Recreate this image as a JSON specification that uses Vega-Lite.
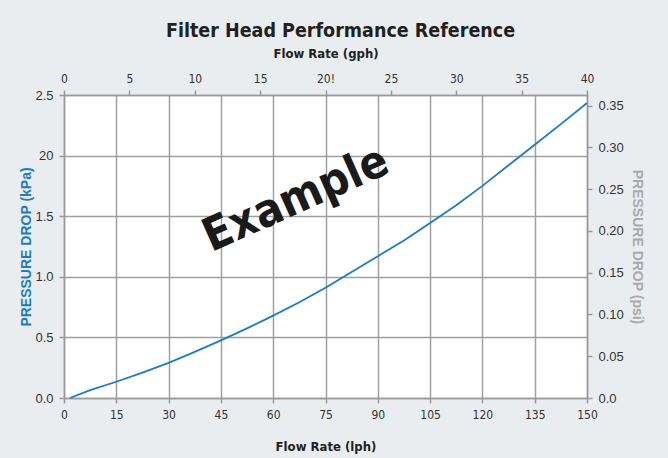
{
  "$schema": "https://vega.github.io/schema/vega-lite/v6.json",
  "autosize": {"type": "none"},
  "width": 523,
  "height": 303,
  "padding": {"left": 64, "top": 95, "right": 81, "bottom": 60},
  "background": "#e9edf0",
  "config": {
    "view": {"fill": "white", "stroke": null},
    "axis": {
      "domainColor": "#9a9a9a", "domainWidth": 1.5,
      "gridColor": "#a0a0a0", "gridWidth": 1.5, "gridOpacity": 1,
      "tickColor": "#9a9a9a", "tickWidth": 1.5, "tickSize": 5,
      "labelColor": "#333333", "labelFontSize": 13, "labelFont": "Liberation Sans",
      "titleFontWeight": "bold", "titleFontSize": 14
    }
  },
  "title": {
    "text": "Filter Head Performance Reference",
    "font": "DejaVu Sans Condensed",
    "fontSize": 19.5,
    "fontWeight": "bold",
    "color": "#231f20",
    "anchor": "middle",
    "dx": 15,
    "offset": 6
  },
  "layer": [
    {
      "data": {"values": [
        {"lph": 1.7, "kpa": 0},
        {"lph": 7.5, "kpa": 0.065},
        {"lph": 15, "kpa": 0.134},
        {"lph": 22.5, "kpa": 0.21},
        {"lph": 30, "kpa": 0.29},
        {"lph": 37.5, "kpa": 0.38},
        {"lph": 45, "kpa": 0.475},
        {"lph": 52.5, "kpa": 0.575},
        {"lph": 60, "kpa": 0.68},
        {"lph": 67.5, "kpa": 0.79},
        {"lph": 75, "kpa": 0.91},
        {"lph": 82.5, "kpa": 1.04},
        {"lph": 90, "kpa": 1.17},
        {"lph": 97.5, "kpa": 1.3},
        {"lph": 105, "kpa": 1.444},
        {"lph": 112.5, "kpa": 1.59},
        {"lph": 120, "kpa": 1.75},
        {"lph": 127.5, "kpa": 1.92},
        {"lph": 135, "kpa": 2.09},
        {"lph": 142.5, "kpa": 2.26},
        {"lph": 150, "kpa": 2.434}
      ]},
      "mark": {"type": "line", "color": "#1a7cc6", "strokeWidth": 1.8},
      "encoding": {
        "x": {
          "field": "lph", "type": "quantitative",
          "scale": {"domain": [0, 150], "nice": false, "zero": false},
          "axis": {
            "orient": "bottom", "title": "Flow Rate (lph)",
            "values": [0, 15, 30, 45, 60, 75, 90, 105, 120, 135, 150],
            "grid": true, "labelFont": "DejaVu Sans Condensed", "labelFontSize": 12,
            "labelPadding": 6, "labelFlush": false,
            "titleFont": "DejaVu Sans Condensed", "titleColor": "#231f20", "titlePadding": 20, "titleFontSize": 13
          }
        },
        "y": {
          "field": "kpa", "type": "quantitative",
          "scale": {"domain": [0, 2.5], "nice": false},
          "axis": {
            "orient": "left", "title": "PRESSURE DROP (kPa)",
            "values": [0, 0.5, 1, 1.5, 2, 2.5],
            "labelExpr": "datum.value == 2 ? '20' : format(datum.value, '.1f')",
            "grid": true, "labelPadding": 6, "labelFlush": false,
            "titleColor": "#1a7cc6", "titlePadding": 1, "titleFont": "Liberation Sans"
          }
        }
      }
    },
    {
      "data": {"values": [{"label": "Example", "lph": 66.5, "kpa": 1.64}]},
      "mark": {"type": "text", "font": "DejaVu Sans Condensed", "fontWeight": "bold", "fontSize": 46, "angle": -24, "color": "#1a1a1a", "align": "center", "baseline": "middle"},
      "encoding": {
        "x": {"field": "lph", "type": "quantitative", "scale": {"domain": [0, 150], "nice": false, "zero": false}, "axis": null},
        "y": {"field": "kpa", "type": "quantitative", "scale": {"domain": [0, 2.5], "nice": false}, "axis": null},
        "text": {"field": "label"}
      }
    },
    {
      "data": {"values": [{"gph": 0, "psi": 0}, {"gph": 40, "psi": 0.3626}]},
      "mark": {"type": "point", "opacity": 0},
      "encoding": {
        "x": {
          "field": "gph", "type": "quantitative",
          "scale": {"domain": [0, 40], "nice": false, "zero": false},
          "axis": {
            "orient": "top", "title": "Flow Rate (gph)",
            "values": [0, 5, 10, 15, 20, 25, 30, 35, 40],
            "labelExpr": "datum.value == 20 ? '20!' : datum.label",
            "grid": false, "labelFont": "DejaVu Sans Condensed", "labelFontSize": 12,
            "labelPadding": 5, "labelFlush": false,
            "titleFont": "DejaVu Sans Condensed", "titleColor": "#231f20", "titlePadding": 12, "titleFontSize": 13
          }
        },
        "y": {
          "field": "psi", "type": "quantitative",
          "scale": {"domain": [0, 0.3626], "nice": false},
          "axis": {
            "orient": "right", "title": "PRESSURE DROP (psi)",
            "values": [0, 0.05, 0.1, 0.15, 0.2, 0.25, 0.3, 0.35],
            "labelExpr": "datum.value == 0 ? '0.0' : format(datum.value, '.2f')",
            "grid": false, "labelPadding": 6, "labelFlush": false,
            "titleColor": "#aaaaaa", "titlePadding": 6, "titleFont": "Liberation Sans"
          }
        }
      }
    }
  ],
  "resolve": {
    "scale": {"x": "independent", "y": "independent"},
    "axis": {"x": "independent", "y": "independent"}
  }
}
